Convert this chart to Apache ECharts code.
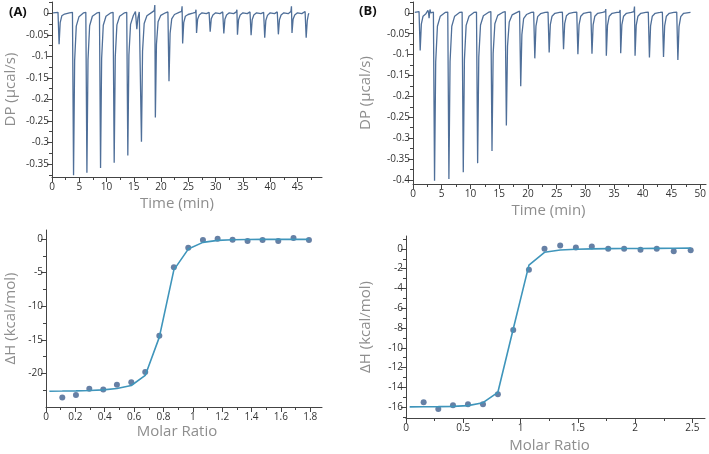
<!DOCTYPE html>
<html><head><meta charset="utf-8">
<script src="https://cdn.jsdelivr.net/npm/echarts@6/dist/echarts.min.js"></script>
<style>html,body{margin:0;padding:0;background:#fff}#c{width:709px;height:454px}</style>
</head><body><div id="c"></div>
<script>
// ---------- Panel A thermogram (time min, DP µcal/s) ----------
const traceA = [
[0.2,0.001],[1.1,0.002],[1.2,0],[1.3,-0.072],[1.5,-0.022],[1.8,-0.006],[2.3,-0.002],[3.2,0.001],
[3.75,0.002],[3.85,0],[3.95,-0.376],[4.15,-0.11],[4.45,-0.03],[4.95,-0.008],[5.8,0.001],
[6.2,0.002],[6.3,0],[6.4,-0.37],[6.6,-0.108],[6.9,-0.029],[7.4,-0.007],[8.3,0.001],
[8.7,0.002],[8.8,0],[8.9,-0.359],[9.1,-0.105],[9.4,-0.028],[9.9,-0.007],[10.8,0.001],
[11.2,0.002],[11.3,0],[11.4,-0.347],[11.6,-0.101],[11.9,-0.027],[12.4,-0.007],[13.3,0.001],
[13.7,0.002],[13.8,0],[13.9,-0.33],[14.1,-0.097],[14.4,-0.026],[14.9,-0.006],[15.3,0.004],[15.45,0.007],[15.55,-0.037],[15.75,-0.011],[16.0,0.003],[16.2,0.005],
[16.3,0],[16.4,-0.298],[16.6,-0.088],[16.9,-0.024],[17.4,-0.006],[18.3,0.002],[18.75,0.006],
[18.85,0.019],[18.95,-0.242],[19.15,-0.072],[19.45,-0.02],[19.95,-0.005],[20.8,0.001],[21.25,0.003],
[21.35,0.006],[21.45,-0.158],[21.65,-0.047],[21.95,-0.013],[22.45,-0.003],[23.3,0.002],[23.75,0.004],
[23.85,0.016],[23.95,-0.07],[24.15,-0.022],[24.45,-0.007],[24.95,-0.003],[25.8,0],[26.3,0.002],
[26.4,0.008],[26.5,-0.046],[26.7,-0.014],[27.0,-0.004],[27.5,0.001],[28.3,-0.001],[28.8,0.002],
[28.9,0.003],[29.0,-0.043],[29.2,-0.013],[29.5,-0.004],[30.0,0.001],[30.8,-0.001],[31.3,0.003],
[31.4,0.006],[31.5,-0.047],[31.7,-0.014],[32.0,-0.004],[32.5,0.001],[33.3,-0.001],[33.8,0.003],
[33.9,0.008],[34.0,-0.05],[34.2,-0.015],[34.5,-0.004],[35.0,0.001],[35.8,-0.001],[36.3,0.003],
[36.4,0.005],[36.5,-0.051],[36.7,-0.015],[37.0,-0.004],[37.5,0.001],[38.3,-0.001],[38.8,0.002],
[38.9,0.003],[39.0,-0.057],[39.2,-0.017],[39.5,-0.005],[40.0,0.001],[40.8,-0.001],[41.3,0.003],
[41.4,0.005],[41.5,-0.049],[41.7,-0.015],[42.0,-0.004],[42.5,0.001],[43.3,-0.001],[43.8,0.004],
[43.9,0.016],[44.0,-0.046],[44.2,-0.014],[44.5,-0.004],[45.0,0.001],[45.8,-0.001],[46.4,0.004],
[46.5,0.007],[46.6,-0.057],[46.8,-0.017],[47.0,-0.003],[47.1,0]
];
// ---------- Panel B thermogram ----------
const traceB = [
[0.3,0.001],[1.05,0.003],[1.15,0],[1.25,-0.09],[1.45,-0.027],[1.75,-0.008],[2.25,-0.002],[2.6,0.006],[2.7,0.001],[2.8,-0.013],[2.95,0.008],[3.1,0],[3.55,0.002],
[3.65,0],[3.75,-0.402],[3.95,-0.118],[4.25,-0.032],[4.75,-0.008],[5.6,0.001],[6.05,0.002],
[6.15,0],[6.25,-0.398],[6.45,-0.117],[6.75,-0.032],[7.25,-0.008],[8.1,0.001],[8.55,0.002],
[8.65,0],[8.75,-0.382],[8.95,-0.112],[9.25,-0.03],[9.75,-0.008],[10.6,0.001],[11.05,0.002],
[11.15,0],[11.25,-0.36],[11.45,-0.106],[11.75,-0.029],[12.25,-0.007],[13.1,0.001],[13.55,0.003],
[13.65,0],[13.75,-0.331],[13.95,-0.097],[14.25,-0.026],[14.75,-0.006],[15.6,0.001],[16.05,0.003],
[16.15,0],[16.25,-0.27],[16.45,-0.08],[16.75,-0.022],[17.25,-0.005],[18.1,0.001],[18.55,0.004],
[18.65,0.008],[18.75,-0.176],[18.95,-0.052],[19.25,-0.014],[19.75,-0.004],[20.6,0.001],[21.0,0.002],
[21.1,0.003],[21.2,-0.109],[21.4,-0.032],[21.7,-0.009],[22.2,-0.002],[23.0,0.001],[23.5,0.002],
[23.6,0.004],[23.7,-0.095],[23.9,-0.028],[24.2,-0.008],[24.7,-0.001],[25.5,0.001],[26.0,0.002],
[26.1,0.004],[26.2,-0.087],[26.4,-0.026],[26.7,-0.007],[27.2,-0.001],[28.0,0.001],[28.5,0.002],
[28.6,0.003],[28.7,-0.099],[28.9,-0.029],[29.2,-0.008],[29.7,-0.001],[30.5,0.001],[30.95,0.002],
[31.05,0.005],[31.15,-0.098],[31.35,-0.029],[31.65,-0.008],[32.15,-0.001],[33.0,0.001],[33.45,0.003],
[33.55,0.009],[33.65,-0.103],[33.85,-0.03],[34.15,-0.008],[34.65,-0.001],[35.5,0.001],[35.95,0.002],
[36.05,0.007],[36.15,-0.097],[36.35,-0.029],[36.65,-0.008],[37.15,-0.001],[38.0,0.001],[38.45,0.003],
[38.55,0.015],[38.65,-0.103],[38.85,-0.03],[39.15,-0.008],[39.65,-0.001],[40.5,0.001],[40.95,0.002],
[41.05,0.005],[41.15,-0.107],[41.35,-0.031],[41.65,-0.008],[42.15,-0.001],[43.0,0.001],[43.4,0.002],
[43.5,0.006],[43.6,-0.106],[43.8,-0.031],[44.1,-0.008],[44.6,-0.001],[45.4,0.001],[45.9,0.002],
[46.0,0.005],[46.1,-0.113],[46.3,-0.033],[46.6,-0.009],[47.1,-0.001],[48.3,0.001]
];
// ---------- Panel A isotherm ----------
const ratioA = [0.111,0.204,0.295,0.390,0.483,0.581,0.676,0.772,0.871,0.969,1.069,1.169,1.271,1.373,1.475,1.582,1.686,1.791];
const dhA    = [-23.6,-23.2,-22.3,-22.4,-21.7,-21.3,-19.8,-14.4,-4.2,-1.3,-0.15,0.05,-0.1,-0.3,-0.15,-0.3,0.15,-0.15];
const fitRatioA = [0.023,0.111,0.204,0.295,0.390,0.483,0.581,0.676,0.772,0.871,0.969,1.069,1.169,1.271,1.373,1.475,1.582,1.686,1.791];
const fitA      = [-22.65,-22.63,-22.6,-22.55,-22.45,-22.25,-21.8,-20.3,-14.6,-4.6,-1.5,-0.5,-0.2,-0.12,-0.08,-0.06,-0.05,-0.05,-0.05];
// ---------- Panel B isotherm ----------
const ratioB = [0.154,0.282,0.410,0.541,0.672,0.802,0.936,1.073,1.209,1.346,1.483,1.622,1.765,1.904,2.047,2.189,2.337,2.485];
const dhB    = [-15.5,-16.2,-15.8,-15.7,-15.7,-14.7,-8.2,-2.1,0,0.35,0.15,0.25,0,0,-0.1,0,-0.25,-0.15];
const fitRatioB = [0.032,0.154,0.282,0.410,0.541,0.672,0.802,0.936,1.073,1.209,1.346,1.483,1.622,1.765,1.904,2.047,2.189,2.337,2.485];
const fitB      = [-15.98,-15.97,-15.95,-15.92,-15.85,-15.55,-14.5,-8.1,-1.65,-0.35,-0.12,-0.04,0,0.02,0.03,0.04,0.05,0.06,0.07];
// ---------- Tick labels ----------
const ticksA1y = [0,-0.05,-0.1,-0.15,-0.2,-0.25,-0.3,-0.35];
const minorA1y = [0.025,-0.025,-0.075,-0.125,-0.175,-0.225,-0.275,-0.325,-0.375];
const ticksA1x = [0,5,10,15,20,25,30,35,40,45];
const minorA1x = [2.5,7.5,12.5,17.5,22.5,27.5,32.5,37.5,42.5,47.5];
const ticksB1y = [0,-0.05,-0.1,-0.15,-0.2,-0.25,-0.3,-0.35,-0.4];
const minorB1y = [0.025,-0.025,-0.075,-0.125,-0.175,-0.225,-0.275,-0.325,-0.375];
const ticksB1x = [0,5,10,15,20,25,30,35,40,45,50];
const minorB1x = [2.5,7.5,12.5,17.5,22.5,27.5,32.5,37.5,42.5,47.5];
const ticksA2y = [0,-5,-10,-15,-20];
const minorA2y = [-2.5,-7.5,-12.5,-17.5,-22.5];
const ticksA2x = [0,0.2,0.4,0.6,0.8,1,1.2,1.4,1.6,1.8];
const minorA2x = [0.1,0.3,0.5,0.7,0.9,1.1,1.3,1.5,1.7];
const ticksB2y = [0,-2,-4,-6,-8,-10,-12,-14,-16];
const minorB2y = [1,-1,-3,-5,-7,-9,-11,-13,-15,-17];
const ticksB2x = [0,0.5,1,1.5,2,2.5];
const minorB2x = [0.25,0.75,1.25,1.75,2.25];

const FONT = 'Open Sans';
const AXC = '#444';
const NAMEC = '#8e8e8e';
const TRACE = '#4f6f99';
const DOT = '#40608e';
const FIT = '#3f95bb';

function fmt(v){ return String(Math.round(v*1000)/1000); }

function mainAxis(dim, grid, min, max, ticks, name, gap, pad){
  const a = {
    type:'value', gridIndex:grid, min:min, max:max, scale:true,
    name:name, nameLocation:'middle', nameGap:gap,
    nameTextStyle:{color:NAMEC, fontSize:15, fontFamily:FONT, padding:pad||0},
    axisLine:{show:true, onZero:false, lineStyle:{color:AXC, width:1}},
    axisTick:{show:true, length:5, customValues:ticks, lineStyle:{color:AXC}},
    axisLabel:{show:true, customValues:ticks, formatter:fmt, color:'#333', fontSize:10, fontFamily:FONT, margin: dim==='y'?3:5},
    splitLine:{show:false}
  };
  if (dim==='y') a.position='left'; else a.position='bottom';
  return a;
}
function minorAxis(dim, grid, min, max, ticks){
  return {
    type:'value', gridIndex:grid, min:min, max:max, position: dim==='y'?'left':'bottom', offset:0,
    axisLine:{show:false, onZero:false}, axisLabel:{show:false}, splitLine:{show:false},
    axisTick:{show:true, length:3, customValues:ticks, lineStyle:{color:AXC}}
  };
}

const option = {
  animation:false,
  backgroundColor:'#fff',
  title:[
    {text:'(A)', left:4, top:1, textStyle:{fontSize:13, fontWeight:'bold', color:'#111', fontFamily:FONT}},
    {text:'(B)', left:354, top:0, textStyle:{fontSize:13, fontWeight:'bold', color:'#111', fontFamily:FONT}}
  ],
  grid:[
    {left:52, top:2, width:270, height:175},
    {left:413, top:2, width:294, height:182},
    {left:46, top:230, width:276, height:177},
    {left:406, top:236, width:299, height:183}
  ],
  xAxis:[
    mainAxis('x',0,0,49.5,ticksA1x,'Time (min)',19,[0,20,0,0]),
    mainAxis('x',1,0,51,ticksB1x,'Time (min)',19,[0,22,0,0]),
    mainAxis('x',2,0,1.88,ticksA2x,'Molar Ratio',17,[0,14,0,0]),
    mainAxis('x',3,0,2.61,ticksB2x,'Molar Ratio',20,[0,12,0,0]),
    minorAxis('x',0,0,49.5,minorA1x),
    minorAxis('x',1,0,51,minorB1x),
    minorAxis('x',2,0,1.88,minorA2x),
    minorAxis('x',3,0,2.61,minorB2x)
  ],
  yAxis:[
    mainAxis('y',0,-0.38,0.026,ticksA1y,'DP (µcal/s)',34),
    mainAxis('y',1,-0.41,0.026,ticksB1y,'DP (µcal/s)',40),
    mainAxis('y',2,-25,1.34,ticksA2y,'ΔH (kcal/mol)',28),
    mainAxis('y',3,-17.1,1.3,ticksB2y,'ΔH (kcal/mol)',33),
    minorAxis('y',0,-0.38,0.026,minorA1y),
    minorAxis('y',1,-0.41,0.026,minorB1y),
    minorAxis('y',2,-25,1.34,minorA2y),
    minorAxis('y',3,-17.1,1.3,minorB2y)
  ],
  series:[
    {type:'line', xAxisIndex:0, yAxisIndex:0, data:traceA, showSymbol:false, lineStyle:{color:TRACE, width:1.3}},
    {type:'line', xAxisIndex:1, yAxisIndex:1, data:traceB, showSymbol:false, lineStyle:{color:TRACE, width:1.3}},
    {type:'line', xAxisIndex:2, yAxisIndex:2, data:fitRatioA.map((x,i)=>[x,fitA[i]]), showSymbol:false, lineStyle:{color:FIT, width:1.6}},
    {type:'scatter', xAxisIndex:2, yAxisIndex:2, data:ratioA.map((x,i)=>[x,dhA[i]]), symbolSize:6, itemStyle:{color:DOT}},
    {type:'line', xAxisIndex:3, yAxisIndex:3, data:fitRatioB.map((x,i)=>[x,fitB[i]]), showSymbol:false, lineStyle:{color:FIT, width:1.6}},
    {type:'scatter', xAxisIndex:3, yAxisIndex:3, data:ratioB.map((x,i)=>[x,dhB[i]]), symbolSize:6, itemStyle:{color:DOT}}
  ]
};
const chart = echarts.init(document.getElementById('c'), null, {renderer:'canvas'});
chart.setOption(option);
</script></body></html>
